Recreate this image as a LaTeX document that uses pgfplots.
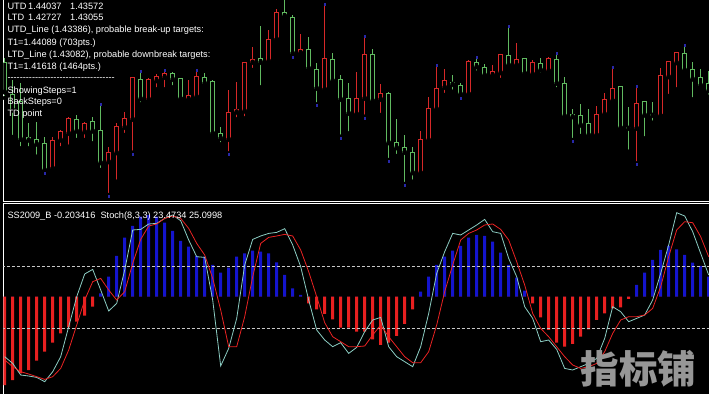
\documentclass[border=0pt]{standalone}
\usepackage{pgfplots}
\pgfplotsset{compat=1.18}
\usepackage{pgfplotstable}
\usepackage{fontspec}
\newfontfamily\lab{Liberation Sans}
\newfontfamily\cjk{Noto Sans CJK SC}
\definecolor{cG}{RGB}{96,186,96}
\definecolor{cR}{RGB}{214,40,40}
\definecolor{hB}{RGB}{20,20,205}
\definecolor{hR}{RGB}{232,32,32}
\definecolor{lT}{RGB}{140,205,195}
\definecolor{lR}{RGB}{235,35,35}
\definecolor{tdB}{RGB}{40,40,170}
\definecolor{wmG}{RGB}{150,150,150}
\definecolor{lvl}{RGB}{200,200,200}

% green candles: k high bodytop bodybottom low
\pgfplotstableread{
k hi top bot lo
0 143 138 109 103
1 121 106 91 64
2 117.7 99.3 61.7 52.7
3 77.7 63.3 61 52.7
4 79.3 61 57 44.3
5 64.3 57.7 31 29.3
9 86 81 70 61
11 84.3 79.3 70 57.7
12 95 70 38.3 31
17 128.3 121.7 102.3 96.7
21 129.3 127 121.7 113.7
22 122.3 122.3 102.3 102.3
25 128.3 123.7 117.7 113.7
26 121 119.3 67.7 67.7
27 74.3 67.7 62.7 56.7
32 175 142 138.7 113.7
35 205 188.7 185.3 181
36 186 183.7 147.7 145
38 164.3 151.7 132.7 130.3
39 137.7 131.7 112.7 96.7
41 147.7 141.7 120.3 117.7
42 126 121 101.7 64.3
43 117.7 102.3 87.7 67.7
46 151.7 146 100.3 97.7
48 109.3 107.7 58.3 41
49 82 58.7 53.3 45
50 66 53.7 48.7 17
51 54.3 48.7 28.3 19.3
56 126 118.7 116.7 109.3
57 117.7 115 107 104.3
59 142.7 138.7 134.3 128.3
60 136.7 133.7 126 125
63 173.3 145 136 135
65 142.7 142 127.7 127.7
67 142.7 137.7 131 126
69 146.7 141 117.7 111.7
70 123.7 117.7 85 81.7
71 91.7 86 84.3 61
72 97 85 76 65
73 92 77 66 61.7
77 115 114.3 73.3 72.7
78 94.3 73.7 72.7 49.3
80 100 99.3 86 62.7
81 99.3 86.7 85.7 78.3
85 154.3 147 131 129.3
86 139.3 131.7 122 101.7
87 131.7 123.7 115.7 114.3
88 130.3 117 110.3 104.3
}\tG

% red candles: k high bodytop bodybottom low
\pgfplotstableread{
k hi top bot lo
6 64.3 60 32.7 32.7
7 71 69.3 61 52.7
8 84.3 82.7 67.7 54.3
10 79.3 77 69.3 61
13 54.3 48.3 39.3 6
14 77.7 74.3 48.3 19.3
15 89.3 82 73.7 66
16 124.3 123.3 81.7 48.3
18 123.3 121 101.7 97.7
19 127 124.3 120.3 111.7
20 130 127 123.7 111.7
23 121 105 102 101
24 129.3 124.3 104.3 103.7
28 111 88.7 61.7 47.7
29 119.3 91 89 81.7
30 139.3 138.7 90 82.7
31 154.3 141.7 138.7 131
33 171 161 140 136
34 191.7 188.7 161.7 161.7
37 166.7 151 148.3 147.7
40 196 142.7 111.7 111.7
44 129.3 102 87 87
45 163.3 146 102.7 84.3
47 117 107.7 101.7 86
52 70 61 28.3 27.7
53 103.7 92.7 61 59.3
54 135 112.7 92 91
55 131.7 120 113.7 106
58 141 139.3 107 107
61 136 129 126 123.7
62 146 146 128.3 121
64 158.3 141.7 136 136
66 141 138.3 127 123.3
68 143.7 142.7 130.3 127.7
74 95 86.7 66 66
75 107.7 101 87 83.7
76 132.3 112.7 100.3 100.3
79 113.7 97.7 72.7 37.7
82 132.7 125 85.3 85.3
83 139.3 139.3 124.3 105
84 149.3 148.3 138.3 111.7
}\tR

% TD points
\pgfplotstableread{
k v
5 28
12 96.5
13 5
16 47
17 129.5
20 131
24 130.5
28 46.5
36 144
39 95.5
40 197
42 63
45 164.5
45 83
48 40
50 16
54 136
57 103
59 144
63 174.5
69 148
71 60
76 133.5
79 115
79 36.5
85 155.5
}\tTD

% oscillator: k histogram stoch-main stoch-signal
\pgfplotstableread{
k h s r
0 -88.3 -60 -63.3
1 -83.3 -66.7 -70
2 -76.7 -78.3 -75
3 -73.3 -79.3 -77.3
4 -64 -80.7 -80
5 -55 -85 -82.7
6 -46 -75 -80
7 -36.7 -60 -71.7
8 -30.7 -30 -53.3
9 -25 0 -28.3
10 -19 22.7 -3.3
11 -10 27.3 15
12 3.3 6.7 18.3
13 20 -14.3 6.7
14 40.7 -6.7 -3.3
15 59 26.7 5
16 70.7 66.7 33.3
17 80 67.3 57.3
18 81.7 72.7 70.7
19 80 73.3 72.7
20 74 78.3 78.3
21 65.7 81.7 80.7
22 55.7 76 78.3
23 50 56.7 68.3
24 40.7 40 53.3
25 40 39.3 41.7
26 31.7 -3.3 18.3
27 24 -69.3 -13.3
28 29 -51.7 -50
29 40 -21.7 -50
30 43.3 31.7 -20
31 46 57.3 20
32 45 60.7 53.3
33 43.3 63.3 59.3
34 34.3 64.3 60.7
35 21.7 68 62.3
36 8.3 51.7 60.7
37 1.7 30 46.7
38 -6.7 -3.3 25
39 -12.7 -33.3 0
40 -17.3 -43.3 -26
41 -22.7 -50 -40
42 -31 -46 -45
43 -31 -56.7 -50
44 -35 -50.7 -50
45 -35 -35 -49.3
46 -42.7 -23.3 -38.3
47 -48.3 -20.7 -28.3
48 -46 -50 -40
49 -39.3 -60 -50
50 -27.3 -65 -60
51 -12.7 -70 -66
52 5 -50 -66
53 20 -16.7 -55
54 31.7 23.3 -28.3
55 40 45 5
56 46 63.3 31.7
57 50.7 61.7 56.7
58 59 66.7 63.3
59 61.7 71.7 66.7
60 60.7 77.3 71.7
61 55 65 72.7
62 44 63.3 67.3
63 31.7 38.3 56.7
64 19 20 35
65 6 -10 11.7
66 -6.7 -21.7 -16.7
67 -20.7 -45 -31.7
68 -33.3 -43.3 -40
69 -46 -52.7 -50
70 -50 -71.7 -60
71 -47.3 -73.3 -68.3
72 -40 -70 -71.7
73 -32.7 -66.7 -70
74 -23.3 -61.7 -66.7
75 -16.7 -41.7 -55
76 -11.7 -10 -36.7
77 -10.7 -15 -23.3
78 -2.3 -25 -20
79 11.7 -21.7 -20
80 24 -18.3 -18.3
81 36.7 -3.3 -11.7
82 46.7 23.3 10
83 50.7 51.7 40
84 47.3 84 66.7
85 41.7 80.7 75
86 34 65 74
87 30.7 43.3 60
88 20 21.7 40
}\tOsc

\pgfplotsset{
  wick/.style={only marks, mark=none,
    error bars/.cd, y dir=plus, y explicit, error mark=none,
    error bar style={draw=#1, solid, line width=1pt}},
  bodyout/.style={only marks, mark=none,
    error bars/.cd, y dir=plus, y explicit, error mark=none,
    error bar style={draw=#1, solid, line width=5pt}},
  bodyin/.style={only marks, mark=none,
    error bars/.cd, y dir=plus, y explicit, error mark=none,
    error bar style={draw=black, solid, line width=3pt}},
}

\begin{document}
\begin{tikzpicture}
\path[use as bounding box, fill=black] (0pt,0pt) rectangle (709pt,394pt);

% ---------- price panel ----------
\begin{axis}[at={(3.3pt,193pt)}, anchor=south west, scale only axis,
  width=705.7pt, height=201pt,
  xmin=-0.175, xmax=88.04, ymin=0, ymax=201,
  axis x line*=bottom, axis y line*=left,
  xtick=\empty, ytick=\empty,
  axis line style={white, line width=1pt}, clip=true]
\addplot[wick=cG] table[x=k, y=lo, y error plus expr=\thisrow{hi}-\thisrow{lo}] {\tG};
\addplot[bodyout=cG] table[x=k, y expr=\thisrow{bot}-0.5, y error plus expr=\thisrow{top}-\thisrow{bot}+1] {\tG};
\addplot[bodyin] table[x=k, y expr=\thisrow{bot}+0.5, y error plus expr={max(\thisrow{top}-\thisrow{bot}-1,0)}] {\tG};
\addplot[wick=cR] table[x=k, y=lo, y error plus expr=\thisrow{hi}-\thisrow{lo}] {\tR};
\addplot[bodyout=cR] table[x=k, y expr=\thisrow{bot}-0.5, y error plus expr=\thisrow{top}-\thisrow{bot}+1] {\tR};
\addplot[bodyin] table[x=k, y expr=\thisrow{bot}+0.5, y error plus expr={max(\thisrow{top}-\thisrow{bot}-1,0)}] {\tR};
\addplot[only marks, mark=square*, mark size=0.8pt, color=tdB] table[x=k, y=v] {\tTD};
\end{axis}

% ---------- oscillator panel ----------
\begin{axis}[at={(3.3pt,0pt)}, anchor=south west, scale only axis,
  width=705.7pt, height=190.3pt,
  xmin=-0.175, xmax=88.04, ymin=-97.3, ymax=93,
  axis x line*=top, axis y line*=left,
  xtick=\empty, ytick=\empty,
  axis line style={white, line width=1pt}, clip=true]
\addplot[ybar, bar width=3pt, bar shift=0pt, fill=hB, draw=none] table[x=k, y expr={max(\thisrow{h},0)}] {\tOsc};
\addplot[ybar, bar width=3pt, bar shift=0pt, fill=hR, draw=none] table[x=k, y expr={min(\thisrow{h},0)}] {\tOsc};
\addplot[lvl, line width=0.8pt, dash pattern=on 3pt off 2pt] coordinates {(-1,30) (89,30)};
\addplot[lvl, line width=0.8pt, dash pattern=on 3pt off 2pt] coordinates {(-1,-31.6) (89,-31.6)};
\addplot[lT, line width=0.8pt] table[x=k, y=s] {\tOsc};
\addplot[lR, line width=0.8pt] table[x=k, y=r] {\tOsc};
\end{axis}

% ---------- texts ----------
\begin{scope}[every node/.style={inner sep=0pt, text=white, font=\lab\fontsize{9.2}{11}\selectfont}]
\node[anchor=base west] at (7.3pt,384.7pt) {UTD};
\node[anchor=base east] at (61.7pt,384.7pt) {1.44037};
\node[anchor=base west] at (70pt,384.7pt) {1.43572};
\node[anchor=base west] at (7.3pt,373.3pt) {LTD};
\node[anchor=base east] at (61.7pt,373.3pt) {1.42727};
\node[anchor=base west] at (70pt,373.3pt) {1.43055};
\node[anchor=base west] at (7.3pt,361pt) {UTD\_Line (1.43386), probable break-up targets:};
\node[anchor=base west] at (7.3pt,348.7pt) {T1=1.44089 (703pts.)};
\node[anchor=base west] at (7.3pt,336.7pt) {LTD\_Line (1.43082), probable downbreak targets:};
\node[anchor=base west] at (7.3pt,324.7pt) {T1=1.41618 (1464pts.)};
\node[anchor=base west] at (7.3pt,313pt) {-----------------------------------};
\node[anchor=base west] at (7.3pt,300.7pt) {ShowingSteps=1};
\node[anchor=base west] at (7.3pt,289pt) {BackSteps=0};
\node[anchor=base west] at (7.3pt,277pt) {TD point};
\node[anchor=base west] at (7.3pt,175.7pt) {SS2009\_B -0.203416\ \ Stoch(8,3,3) 23.4734 25.0998};
\end{scope}
\node[inner sep=0pt, text=wmG, font=\cjk\bfseries\fontsize{38.5}{40}\selectfont] at (638.3pt,25.2pt) {指标铺};
\end{tikzpicture}
\end{document}
